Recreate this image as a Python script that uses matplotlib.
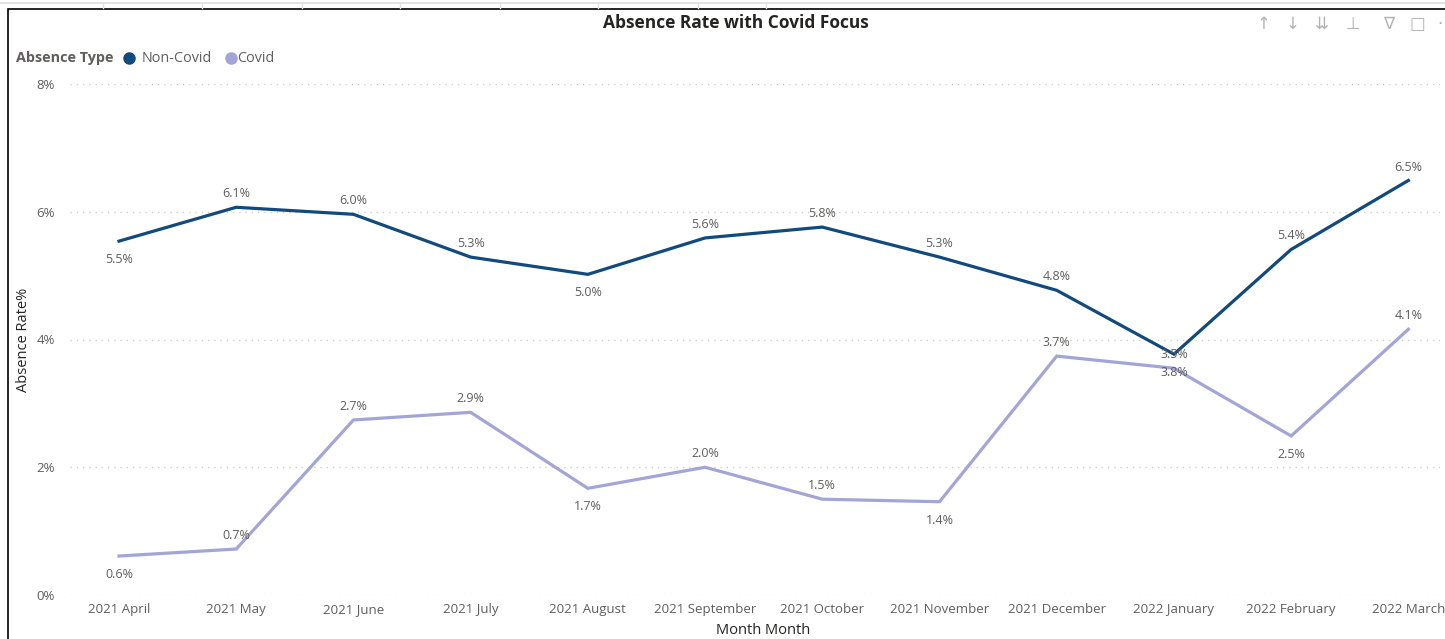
import matplotlib
matplotlib.use("Agg")
import matplotlib.pyplot as plt
from matplotlib.patches import Rectangle
from matplotlib.lines import Line2D

months = ["2021 April", "2021 May", "2021 June", "2021 July", "2021 August",
          "2021 September", "2021 October", "2021 November", "2021 December",
          "2022 January", "2022 February", "2022 March"]
non_covid = [5.54, 6.07, 5.96, 5.29, 5.02, 5.59, 5.76, 5.29, 4.77, 3.77, 5.41, 6.49]
covid = [0.61, 0.72, 2.74, 2.86, 1.67, 2.00, 1.50, 1.46, 3.74, 3.55, 2.49, 4.16]
non_covid_labels = ["5.5%", "6.1%", "6.0%", "5.3%", "5.0%", "5.6%", "5.8%", "5.3%", "4.8%", "3.8%", "5.4%", "6.5%"]
covid_labels = ["0.6%", "0.7%", "2.7%", "2.9%", "1.7%", "2.0%", "1.5%", "1.4%", "3.7%", "3.5%", "2.5%", "4.1%"]
# label placement: 1 = above, -1 = below
non_covid_pos = [-1, 1, 1, 1, -1, 1, 1, 1, 1, -1, 1, 1]
covid_pos = [-1, 1, 1, 1, -1, 1, 1, -1, 1, 1, -1, 1]
yticks = [0, 2, 4, 6, 8]
ytick_labels = ["0%", "2%", "4%", "6%", "8%"]

plt.rcParams['font.family'] = ['Open Sans', 'DejaVu Sans']

W, H = 1445, 639
fig = plt.figure(figsize=(W / 100, H / 100), dpi=100)
fig.patch.set_facecolor("white")

# axes placement in pixels
left_px, right_px, top_px, bottom_px = 70, 1440, 84, 595
ax = fig.add_axes([left_px / W, (H - bottom_px) / H, (right_px - left_px) / W, (bottom_px - top_px) / H])

nc_color = "#124a7e"
cv_color = "#a3a5d9"
txt = "#605e5c"

x = list(range(len(months)))
ax.plot(x, non_covid, color=nc_color, lw=2.3, solid_joinstyle="miter", zorder=3)
ax.plot(x, covid, color=cv_color, lw=2.3, solid_joinstyle="miter", zorder=3)


def put_labels(vals, labels, pos):
    for xi, v, lab, p in zip(x, vals, labels, pos):
        off = 5 if p > 0 else -8.5
        ax.annotate(lab, (xi, v), xytext=(0, off), textcoords="offset points",
                    ha="center", va="bottom" if p > 0 else "top", fontsize=9, color=txt, zorder=4)


put_labels(non_covid, non_covid_labels, non_covid_pos)
put_labels(covid, covid_labels, covid_pos)

ax.set_ylim(0, 8)
ax.set_xlim(-0.418, 11.27)
ax.set_yticks(yticks)
ax.set_yticklabels(ytick_labels)
ax.set_xticks(x)
ax.set_xticklabels([])
ax.tick_params(axis="both", length=0, labelsize=9.5, labelcolor=txt)
ax.tick_params(axis="y", pad=11)
# category labels placed at the x-axis positions, aligned on a common baseline
base_y = -(613 - bottom_px) / (bottom_px - top_px)
for xi, m in zip(x, months):
    ax.text(xi, base_y, m, transform=ax.get_xaxis_transform(), ha="center", va="baseline",
            fontsize=9.5, color=txt, clip_on=False)
for s in ax.spines.values():
    s.set_visible(False)
ax.grid(axis="y", color="#c8c8c8", linestyle=(0, (1, 4)), lw=0.9)
ax.set_axisbelow(True)
ax.set_facecolor("none")

ax.set_ylabel("Absence Rate%", fontsize=10.5, color="#252423")
ax.yaxis.set_label_coords((24 - left_px) / (right_px - left_px), 0.5)
ax.set_xlabel("Month Month", fontsize=10.5, color="#252423")
ax.xaxis.set_label_coords((763 - left_px) / (right_px - left_px), -(630 - bottom_px) / (bottom_px - top_px))
ax.xaxis.label.set_va("center")
ax.yaxis.label.set_va("center")

# title
fig.text(736 / W, 1 - 23 / H, "Absence Rate with Covid Focus", ha="center", va="center",
         fontsize=12.5, fontweight="bold", color="#252423")

# legend
ly = 1 - 58 / H
fig.text(16 / W, ly, "Absence Type", ha="left", va="center", fontsize=10.4,
         fontweight="bold", color=txt)
fig.add_artist(Line2D([129 / W], [ly], marker="o", ms=8, color=nc_color, ls="none"))
fig.text(142 / W, ly, "Non-Covid", ha="left", va="center", fontsize=10.4, color=txt)
fig.add_artist(Line2D([231 / W], [ly], marker="o", ms=8, color=cv_color, ls="none"))
fig.text(237 / W, ly, "Covid", ha="left", va="center", fontsize=10.4, color=txt)

# header icons
icons = [("\u2191", 1264), ("\u2193", 1293), ("\u21ca", 1322), ("\u22a5", 1353), ("\u2207", 1389), ("\u25a1", 1417), ("\u00b7", 1440)]
for ch, px in icons:
    fig.text(px / W, 1 - 24 / H, ch, ha="center", va="center", fontsize=12,
             color="#b3b3b3", family=["DejaVu Sans"])

# visual border
fig.add_artist(Rectangle((8 / W, -0.01), 1.1, 1 - 9 / H + 0.01, transform=fig.transFigure,
                         fill=False, ec="#000000", lw=1.2))
# faint page lines at top
fig.add_artist(Line2D([0, 1], [1 - 3 / H, 1 - 3 / H], color="#e3e3e3", lw=1.5))
for px in [103, 202, 302, 400, 500, 598, 698, 766]:
    fig.add_artist(Line2D([px / W, px / W], [1 - 3 / H, 1 - 8 / H], color="#e3e3e3", lw=1))

fig.savefig("out.png", dpi=100, facecolor="white")
